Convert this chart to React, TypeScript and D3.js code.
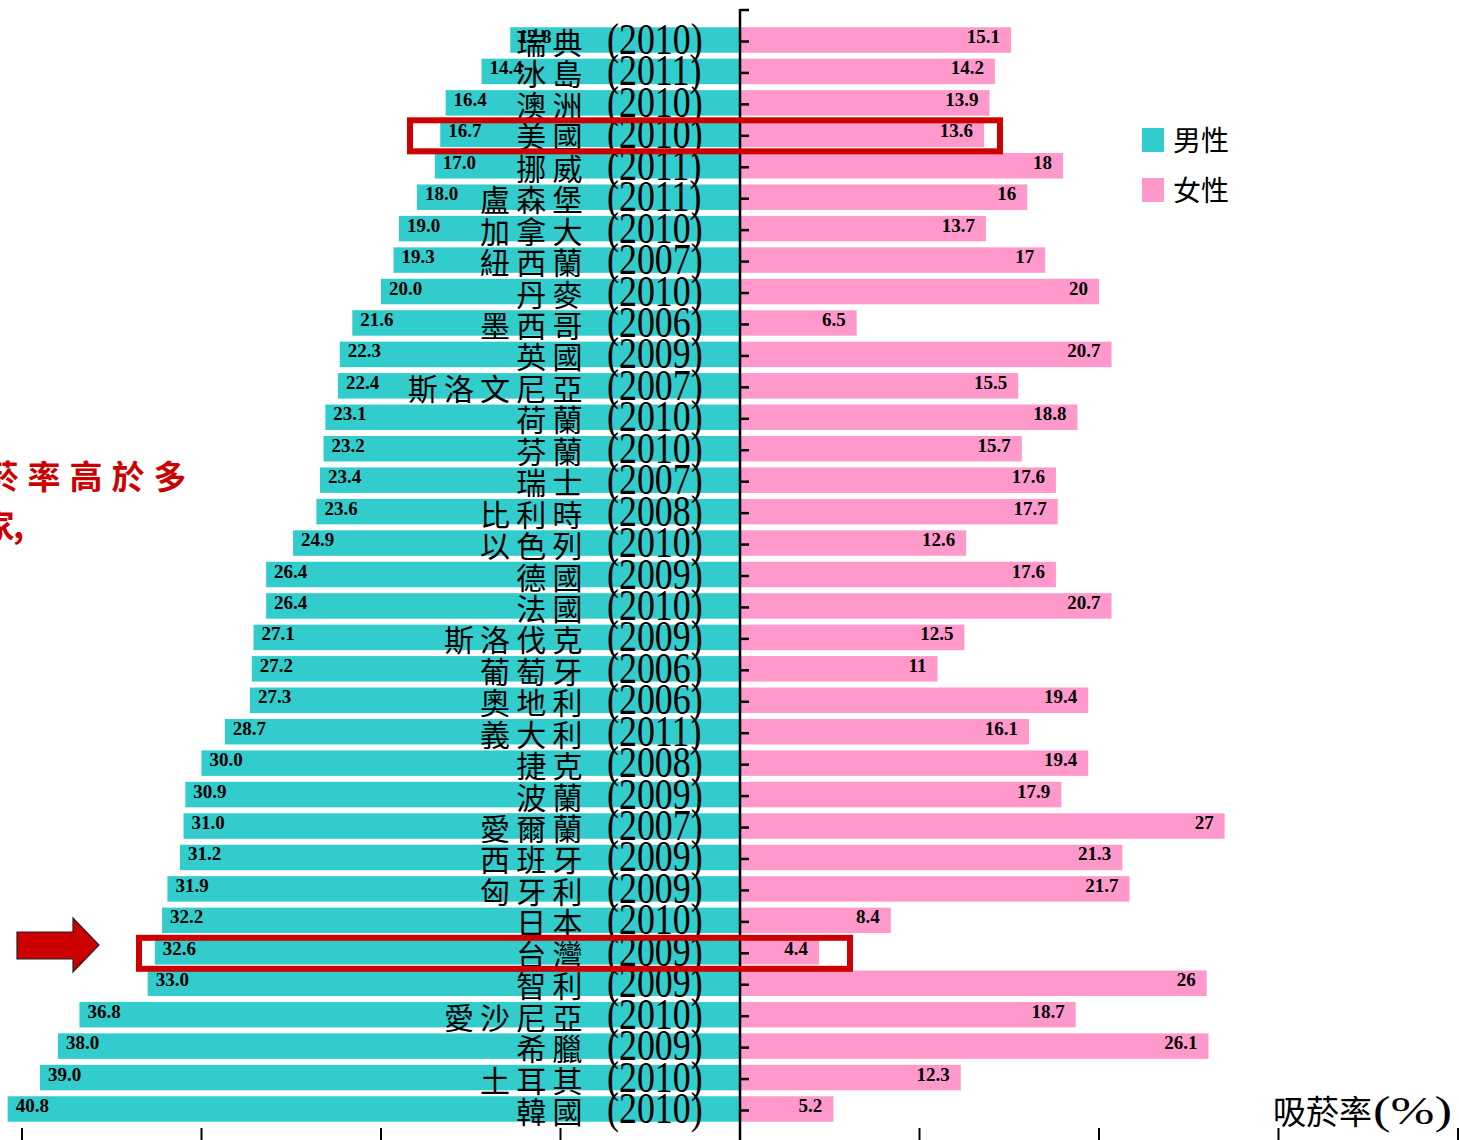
import React from "react";
import * as d3 from "d3";

const countries = ["瑞典","冰島","澳洲","美國","挪威","盧森堡","加拿大","紐西蘭","丹麥","墨西哥","英國","斯洛文尼亞","荷蘭","芬蘭","瑞士","比利時","以色列","德國","法國","斯洛伐克","葡萄牙","奧地利","義大利","捷克","波蘭","愛爾蘭","西班牙","匈牙利","日本","台灣","智利","愛沙尼亞","希臘","土耳其","韓國"];
const years = ["2010","2011","2010","2010","2011","2011","2010","2007","2010","2006","2009","2007","2010","2010","2007","2008","2010","2009","2010","2009","2006","2006","2011","2008","2009","2007","2009","2009","2010","2009","2009","2010","2009","2010","2010"];
const male = [12.8,14.4,16.4,16.7,17.0,18.0,19.0,19.3,20.0,21.6,22.3,22.4,23.1,23.2,23.4,23.6,24.9,26.4,26.4,27.1,27.2,27.3,28.7,30.0,30.9,31.0,31.2,31.9,32.2,32.6,33.0,36.8,38.0,39.0,40.8];
const female = [15.1,14.2,13.9,13.6,18,16,13.7,17,20,6.5,20.7,15.5,18.8,15.7,17.6,17.7,12.6,17.6,20.7,12.5,11,19.4,16.1,19.4,17.9,27,21.3,21.7,8.4,4.4,26,18.7,26.1,12.3,5.2];
const xTicks = [-40,-30,-20,-10,0,10,20,30,40];
const legendItems = ["男性","女性"];
const highlighted = ["美國","台灣"];

const TEAL = "#33CCCC";
const PINK = "#FF99CC";
const RED = "#CC0000";
const CJK = "'Noto Sans CJK TC', 'Noto Sans CJK SC', sans-serif";
const SERIF = "'Liberation Serif', 'Times New Roman', serif";

export default function App() {
  const W = 1459, H = 1140;
  const x = d3.scaleLinear().domain([-40, 40]).range([22, 1458]);
  const y = d3.scalePoint<string>().domain(countries).range([40, 1109]);
  const bh = 25.5;
  const x0 = x(0);

  const boxes = highlighted.map((c) => ({ c, cy: y(c) as number }));

  return (
    <svg width={W} height={H} style={{ position: "absolute", left: 0, top: 0, background: "#fff" }}>
      {countries.map((c, i) => {
        const cy = y(c) as number;
        return (
          <g key={"b" + c}>
            <rect x={x(-male[i])} y={cy - bh / 2} width={x0 - x(-male[i])} height={bh} fill={TEAL} />
            <rect x={x0} y={cy - bh / 2} width={x(female[i]) - x0} height={bh} fill={PINK} />
          </g>
        );
      })}
      {countries.map((c, i) => {
        const cy = y(c) as number;
        return (
          <g key={"v" + c} fontFamily={SERIF} fontWeight="bold" fontSize={19} fill="#000">
            <text x={x(-male[i]) + 8} y={cy + 3}>{male[i].toFixed(1)}</text>
            <text x={x(female[i]) - 11} y={cy + 3} textAnchor="end">{String(female[i])}</text>
          </g>
        );
      })}
      <line x1={x0} x2={x0} y1={9} y2={H} stroke="#000" strokeWidth={2.5} />
      <line x1={x0} x2={x0 + 9} y1={10} y2={10} stroke="#000" strokeWidth={2.5} />
      {countries.map((c) => (
        <line key={"t" + c} x1={x0} x2={x0 + 9} y1={(y(c) as number) + 1.5} y2={(y(c) as number) + 1.5} stroke="#000" strokeWidth={2.5} />
      ))}
      {xTicks.map((t) => (
        <line key={"xt" + t} x1={x(t)} x2={x(t)} y1={1128} y2={H} stroke="#000" strokeWidth={2} />
      ))}
      {countries.map((c, i) => {
        const cy = y(c) as number;
        const chars = Array.from(c);
        const n = chars.length;
        return (
          <g key={"l" + c}>
            {chars.map((ch, k) => (
              <text key={k} x={567.5 - (n - 1 - k) * 36.2} y={cy + 14} textAnchor="middle"
                fontFamily={CJK} fontSize={30} fill="#000">{ch}</text>
            ))}
            <g transform={`translate(607,${cy + 14}) scale(0.97,1.18)`}>
              <text x={0} y={0} fontFamily={SERIF} fontSize={37} fill="#000">({years[i]})</text>
            </g>
          </g>
        );
      })}
      {boxes.map((b) => {
        const left = b.c === "美國" ? 410 : 139;
        const right = b.c === "美國" ? 1000 : 850;
        return (
          <rect key={"box" + b.c} x={left} y={b.cy - 14} width={right - left} height={31}
            fill="none" stroke={RED} strokeWidth={6} />
        );
      })}
      <path d="M17,932 L73,932 L73,918 L99,945 L73,972 L73,959 L17,959 Z" fill={RED} stroke="#222" strokeWidth={1.2} />
      <g fontFamily={CJK} fontWeight="bold" fontSize={33} fill={RED}>
        {Array.from("菸率高於多").map((ch, k) => (
          <text key={"a" + k} x={2 + k * 42} y={489} textAnchor="middle">{ch}</text>
        ))}
        <text x={-2} y={538} textAnchor="middle">家</text>
        <text x={13} y={538} fontSize={34}>,</text>
      </g>
      {legendItems.map((l, i) => (
        <g key={"lg" + l}>
          <rect x={1142} y={128 + i * 50} width={22} height={24} fill={i === 0 ? TEAL : PINK} />
          <text x={1173} y={151 + i * 50} fontFamily={CJK} fontSize={28} fill="#000">{l}</text>
        </g>
      ))}
      <text x={1273} y={1124} fontFamily={CJK} fontSize={33} fill="#000">吸菸率</text>
      <text x={1373} y={1124} fontFamily={SERIF} fontSize={40} fill="#000" textLength={79} lengthAdjust="spacingAndGlyphs">(%)</text>
    </svg>
  );
}
